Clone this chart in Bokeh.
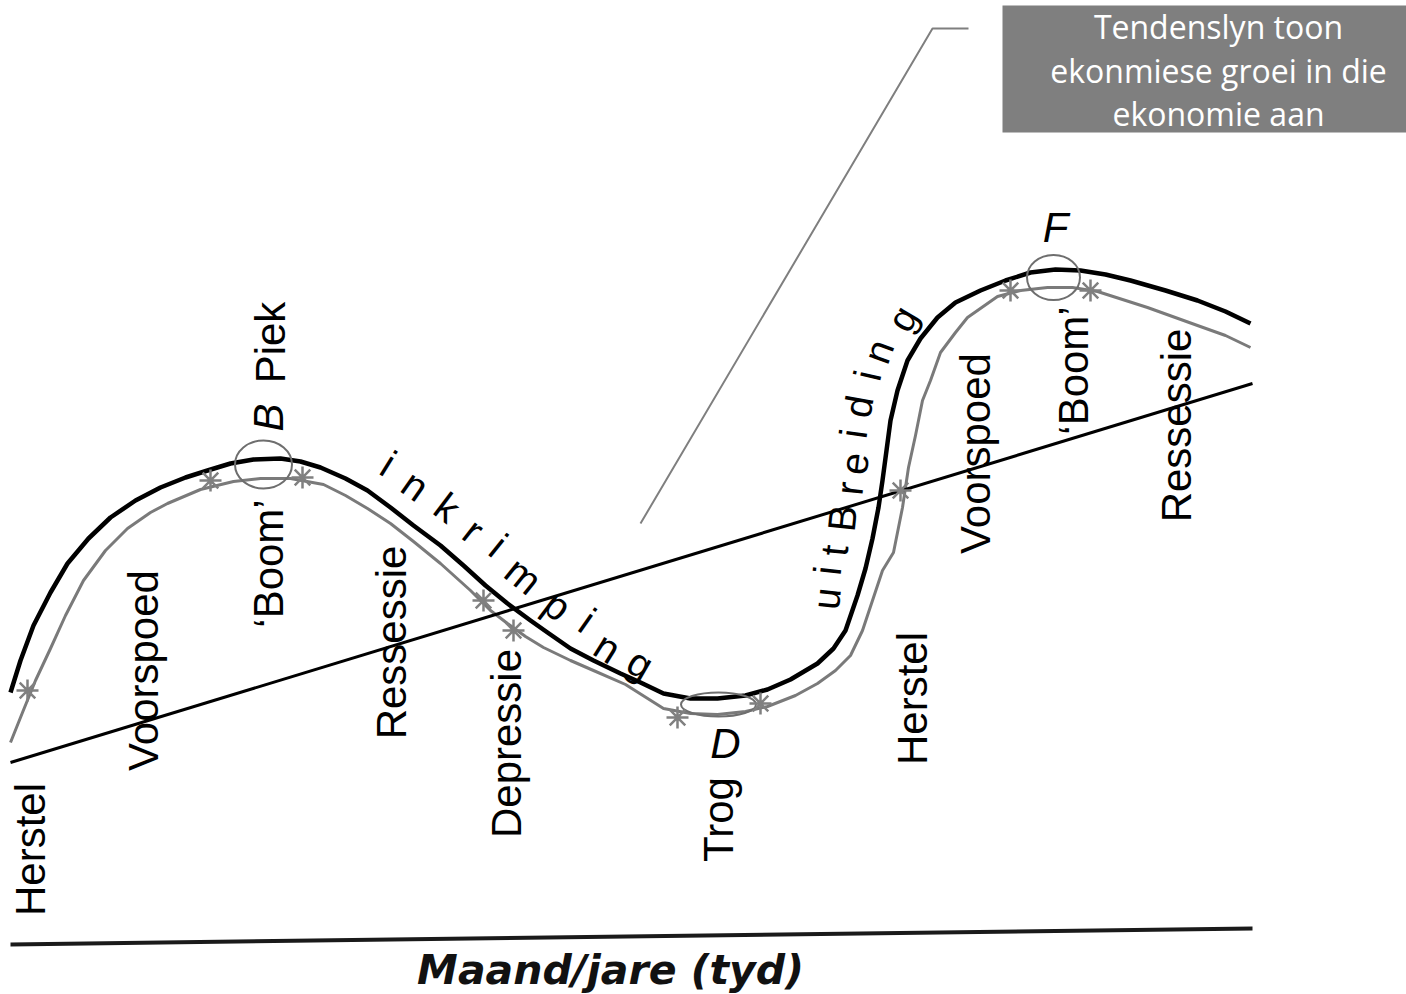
import math
from bokeh.plotting import figure
from bokeh.models import Range1d
from bokeh.core.properties import value
from bokeh.embed import file_html
from bokeh.resources import INLINE

# ---- business-cycle curve (outer black) (px) ----
curve_x = [10, 20, 33, 50, 67, 88, 110, 135, 160, 185, 207, 230, 253, 280, 300, 320,
           345, 367, 390, 413, 440, 463, 485, 507, 530, 547, 570, 593, 620, 640, 663,
           690, 717, 745, 767, 790, 817, 833, 845, 857, 865, 872, 878, 882, 886, 890,
           897, 907, 920, 937, 955, 980, 1005, 1030, 1055, 1080, 1105, 1130, 1165,
           1197, 1225, 1250]
curve_y = [692, 660, 625, 592, 563, 538, 517, 500, 487, 477, 470, 463, 459, 458, 461, 467,
           478, 490, 507, 525, 545, 565, 585, 603, 620, 632, 648, 660, 673, 682, 693,
           698, 698, 695, 689, 679, 663, 648, 630, 595, 568, 538, 507, 480, 450, 420,
           390, 360, 338, 317, 302, 290, 280, 272, 269, 270, 274, 280, 290,
           300, 311, 323]

# ---- inner grey companion curve ----
inner_x = [10, 22, 35, 50, 65, 83, 105, 127, 150, 167, 200, 233, 260, 290, 323, 345,
           367, 390, 413, 440, 470, 490, 507, 525, 543, 570, 593, 625, 663, 690, 717,
           745, 767, 795, 817, 835, 850, 862, 872, 882, 893, 902, 908, 915, 922, 930,
           940, 955, 967, 997, 1020, 1047, 1072, 1097, 1147, 1197, 1225, 1250]
inner_y = [742, 712, 680, 648, 615, 580, 550, 528, 512, 503, 489, 481, 478, 478, 484, 495,
           508, 523, 541, 563, 590, 610, 623, 636, 647, 660, 670, 684, 708, 713, 714,
           711, 706, 695, 683, 670, 655, 630, 600, 570, 552, 507, 467, 435, 400, 380,
           352, 332, 317, 296, 290, 287, 287, 291, 307, 325, 335, 347]

# ---- trend line and time axis ----
trend_x = [10, 1252]
trend_y = [762, 383]
axis_x = [10, 1252]
axis_y = [944, 928]

# ---- rotated phase labels ----
phase_text = ["Herstel", "Voorspoed", "\u2018Boom\u2019", "Piek", "Ressessie", "Depressie",
              "Trog", "Herstel", "Voorspoed", "\u2018Boom\u2019", "Ressessie"]
phase_x = [30, 143, 268, 270, 391, 506, 718, 912, 975, 1073, 1176]
phase_y = [849, 670, 563, 342, 642, 743, 819, 698, 453, 370, 425]

# ---- italic point letters ----
point_text = ["B", "D", "F"]
point_x = [268, 725, 1055]
point_y = [417, 743, 227]
point_angle = [90, 0, 0]

# ---- letters along the curve ----
shrink_letters = list("inkrimping")
shrink_x = [388, 415, 447, 473, 498, 523, 557, 587, 607, 640]
shrink_y = [463, 485, 507, 530, 545, 575, 605, 620, 647, 663]
shrink_angle = [-32, -35, -37, -38, -39, -39, -37, -35, -32, -30]

grow_letters = list("uitBreiding")
grow_x = [826, 827, 834, 842, 849, 854, 853, 858, 867, 878, 902]
grow_y = [598, 570, 550, 518, 488, 463, 433, 406, 375, 351, 318]
grow_angle = [84, 84, 84, 84, 84, 83, 82, 80, 77, 70, 60]

# ---- turning-point loops and junction marks ----
loop_x = [263, 718, 1053]
loop_y = [464, 704, 277]
loop_w = [57, 75, 53]
loop_h = [48, 24, 45]
mark_x = [27, 210, 302, 483, 513, 677, 760, 900, 1010, 1090]
mark_y = [690, 480, 477, 600, 630, 717, 703, 490, 290, 290]

# ---- callout ----
callout_lines = ["Tendenslyn toon", "ekonmiese groei in die", "ekonomie aan"]
callout_line_y = [26, 70, 113]
callout_x = 1218
leader_x = [640, 932, 968]
leader_y = [523, 28, 28]
box_left, box_right, box_top, box_bottom = 1002, 1406, 5, 132

axis_title = "Maand/jare (tyd)"

neg = lambda v: [-a for a in v]
rad = lambda v: [math.radians(a) for a in v]

p = figure(width=1406, height=994, x_range=Range1d(0, 1406), y_range=Range1d(-994, 0),
           output_backend="svg", toolbar_location=None, x_axis_type=None, y_axis_type=None,
           min_border=0, outline_line_color=None, background_fill_color="white",
           border_fill_color="white")
p.grid.visible = False

SANS = value("Liberation Sans")

# callout box
p.quad(left=[box_left], right=[box_right], top=[-box_top], bottom=[-box_bottom],
       fill_color="#7f7f7f", line_color=None)
p.text(x=[callout_x] * 3, y=neg(callout_line_y), text=callout_lines,
       text_font=value("Open Sans"), text_font_size=value("32px"), text_color="white",
       text_align="center", text_baseline="middle")
p.line(leader_x, neg(leader_y), line_color="#7f7f7f", line_width=2)

# time axis
p.line(axis_x, neg(axis_y), line_color="#1a1a1a", line_width=4)
p.text(x=[610], y=[-969], text=[axis_title], text_font=value("DejaVu Sans"),
       text_font_size=value("41px"), text_font_style="bold italic", text_color="#111111",
       text_align="center", text_baseline="middle")

# curves
p.line(inner_x, neg(inner_y), line_color="#7a7a7a", line_width=3, line_join="round")
p.line(curve_x, neg(curve_y), line_color="#000000", line_width=4.5, line_join="round")
p.line(trend_x, neg(trend_y), line_color="#000000", line_width=3)

# loops and marks
p.ellipse(x=loop_x, y=neg(loop_y), width=loop_w, height=loop_h, fill_color=None,
          line_color="#6e6e6e", line_width=2)
p.scatter(x=mark_x, y=neg(mark_y), marker="asterisk", size=22, line_color="#808080",
          line_width=2.5)

# labels
p.text(x=phase_x, y=neg(phase_y), text=phase_text, angle=math.pi / 2, text_font=SANS,
       text_font_size=value("42px"), text_color="#000000", text_align="center",
       text_baseline="middle")
p.text(x=point_x, y=neg(point_y), text=point_text, angle=rad(point_angle), text_font=SANS,
       text_font_size=value("42px"), text_font_style="italic", text_color="#000000",
       text_align="center", text_baseline="middle")
p.text(x=shrink_x, y=neg(shrink_y), text=shrink_letters, angle=rad(shrink_angle),
       text_font=SANS, text_font_size=value("40px"), text_color="#000000",
       text_align="center", text_baseline="middle")
p.text(x=grow_x, y=neg(grow_y), text=grow_letters, angle=rad(grow_angle),
       text_font=SANS, text_font_size=value("39px"), text_color="#000000",
       text_align="center", text_baseline="middle")

open("out.html", "w").write(file_html(p, INLINE))
